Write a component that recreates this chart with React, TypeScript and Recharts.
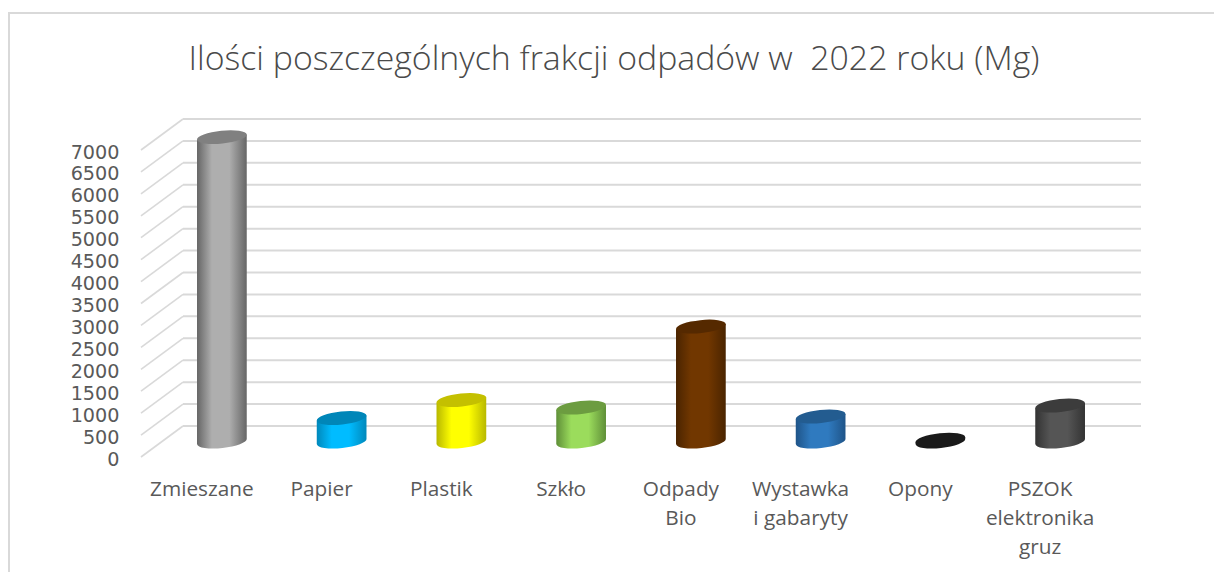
import React from 'react';
import { BarChart, Bar, XAxis, YAxis, CartesianGrid } from 'recharts';

const categories = ['Zmieszane', 'Papier', 'Plastik', 'Szkło', 'Odpady\nBio', 'Wystawka\ni gabaryty', 'Opony', 'PSZOK\nelektronika\ngruz'];
const amounts = [6940, 535, 945, 775, 2620, 570, 40, 820];
const yTicks = [0, 500, 1000, 1500, 2000, 2500, 3000, 3500, 4000, 4500, 5000, 5500, 6000, 6500, 7000];

// body edge, body centre, top face
const barColors = [
  ['#666666', '#aeaeae', '#808080'],
  ['#0088bb', '#00bcff', '#0086b8'],
  ['#b8b800', '#ffff00', '#c4c000'],
  ['#5f8f38', '#9bdc5c', '#6c9c40'],
  ['#4a2400', '#713700', '#552900'],
  ['#1f5488', '#2f7abf', '#235c90'],
  ['#1a1a1a', '#1a1a1a', '#1a1a1a'],
  ['#333333', '#555555', '#3c3c3c'],
];

const rows = categories.map((name, i) => ({ name, amount: amounts[i] }));

const TEXT = '#595959';
const GRID = '#d9d9d9';
const DEPTH_X = 42;
const DEPTH_Y = 31;
const RX = 25;
const RY = 6.5;
const TILT = -6;

function DepthTick({ x, y, payload }: any) {
  return (
    <g>
      <line x1={x} y1={y} x2={x - DEPTH_X} y2={y + DEPTH_Y} stroke={GRID} strokeWidth={1.6} />
      <text x={x - 63.5} y={y + DEPTH_Y + 8.5} textAnchor="end" fontFamily="DejaVu Sans" fontSize={19.2} fill={TEXT}>
        {payload.value}
      </text>
    </g>
  );
}

function CategoryTick({ x, y, payload }: any) {
  const lines = String(payload.value).split('\n');
  return (
    <text textAnchor="middle" fontFamily="Open Sans" fontSize={20.8} fill={TEXT}>
      {lines.map((line: string, i: number) => (
        <tspan key={line} x={x - 41} y={y + 62 + i * 29}>{line}</tspan>
      ))}
    </text>
  );
}

function Cylinder({ x, y, width, height, index }: any) {
  const cx = x + width / 2 - DEPTH_X / 2;
  const top = y + DEPTH_Y / 2;
  const bottom = y + height + DEPTH_Y / 2;
  const rad = (TILT * Math.PI) / 180;
  const dx = RX * Math.cos(rad);
  const dy = RX * Math.sin(rad);
  const body = `M${cx - dx} ${top - dy} L${cx + dx} ${top + dy} L${cx + dx} ${bottom + dy} A${RX} ${RY} ${TILT} 0 1 ${cx - dx} ${bottom - dy} Z`;
  return (
    <g>
      <path d={body} fill={`url(#cyl${index})`} />
      <ellipse cx={cx} cy={top} rx={RX} ry={RY} transform={`rotate(${TILT} ${cx} ${top})`} fill={barColors[index][2]} />
    </g>
  );
}

export default function App() {
  return (
    <div style={{ position: 'absolute', left: 0, top: 0, width: 1214, height: 572, background: '#fff', overflow: 'hidden' }}>
      <div style={{ position: 'absolute', left: 8, top: 12, width: 1206, height: 560, borderLeft: `2px solid ${GRID}`, borderTop: `2px solid ${GRID}`, boxSizing: 'border-box' }} />
      <div style={{ position: 'absolute', left: 0, top: 0 }}>
        <BarChart width={1214} height={572} data={rows} margin={{ top: 119, right: 73, bottom: 0, left: 0 }} barCategoryGap="58%">
          <defs>
            {barColors.map((c, i) => (
              <linearGradient key={i} id={`cyl${i}`} x1="0" y1="0" x2="1" y2="0">
                <stop offset="0%" stopColor={c[0]} />
                <stop offset="30%" stopColor={c[1]} />
                <stop offset="65%" stopColor={c[1]} />
                <stop offset="100%" stopColor={c[0]} />
              </linearGradient>
            ))}
          </defs>
          <text x={614} y={70} textAnchor="middle" fontFamily="Open Sans" fontWeight={300} fontSize={33.8} fill="#4a4a4a">
            {'Ilości poszczególnych frakcji odpadów w \u00A02022 roku (Mg)'}
          </text>
          <CartesianGrid horizontal vertical={false} stroke={GRID} strokeWidth={2} />
          <XAxis dataKey="name" axisLine={false} tickLine={false} height={146} interval={0} tick={<CategoryTick />} />
          <YAxis width={183} domain={[0, 7000]} ticks={yTicks} interval={0} axisLine={false} tickLine={false} tickSize={0} tickMargin={0} tick={<DepthTick />} />
          <Bar dataKey="amount" isAnimationActive={false} shape={<Cylinder />} />
        </BarChart>
      </div>
    </div>
  );
}
